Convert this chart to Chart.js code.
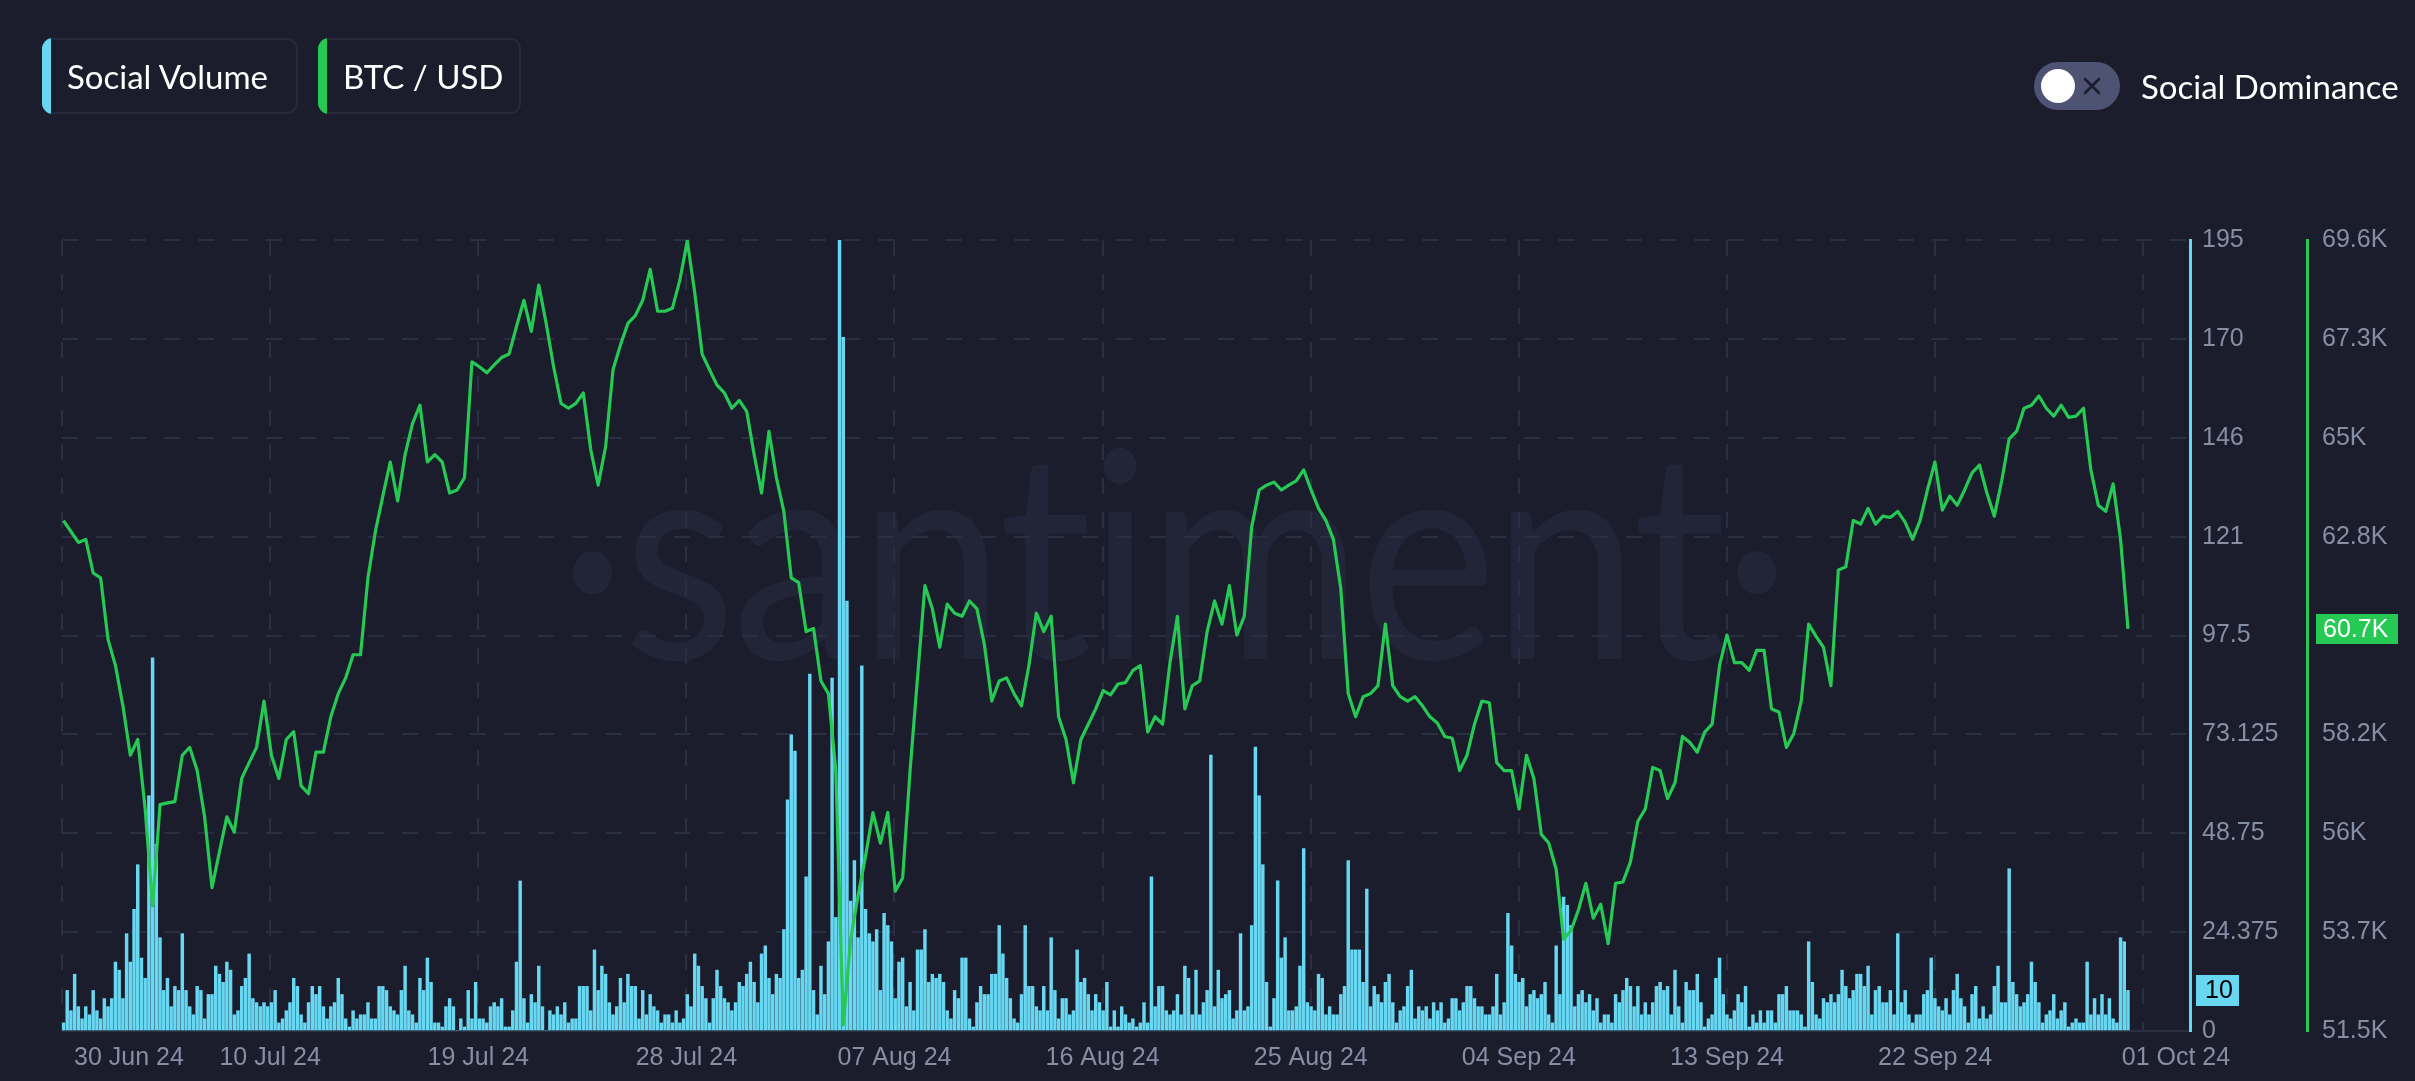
<!DOCTYPE html>
<html>
<head>
<meta charset="utf-8">
<script src="https://cdn.jsdelivr.net/npm/chart.js@4.4.1/dist/chart.umd.min.js"></script>
<style>
  html, body { margin:0; padding:0; }
  body { width:2415px; height:1081px; overflow:hidden; position:relative; background:#1b1d2c; font-family:Lato, "Open Sans", sans-serif; }
  #wm { position:absolute; left:0; width:2346px; top:402px; text-align:center; font:290px/1 Lato, sans-serif; color:#222538;
        letter-spacing:-4px; white-space:nowrap; transform:scaleX(0.9); transform-origin:1173px 0; }
  canvas { position:absolute; left:0; top:0; }
  .lg { position:absolute; top:38px; height:76px; box-sizing:border-box; border-radius:11px; overflow:hidden;
        box-shadow: inset 0 0 0 2px #262a3c; color:#fff; font-size:33px; line-height:76px; padding-left:25px; white-space:nowrap; }
  .lg i { position:absolute; left:0; top:0; bottom:0; width:9px; }
  #toggle { position:absolute; left:2034px; top:62px; width:86px; height:48px; border-radius:24px; background:#4f5373; }
  #toggle .knob { position:absolute; left:7px; top:7px; width:34px; height:34px; border-radius:50%; background:#fff; }
  #toggle svg { position:absolute; left:49px; top:15px; }
  #dom { position:absolute; left:2141px; top:62px; line-height:48px; font-size:33px; color:#fff; white-space:nowrap; }
</style>
</head>
<body>
<div id="wm">·santiment·</div>
<canvas id="chart" width="2415" height="1081"></canvas>
<div class="lg" style="left:42px;width:256px"><i style="background:#68d7f1"></i>Social Volume</div>
<div class="lg" style="left:318px;width:203px"><i style="background:#26c953"></i>BTC / USD</div>
<div id="toggle"><span class="knob"></span>
  <svg width="18" height="18" viewBox="0 0 18 18"><path d="M2 2L16 16M16 2L2 16" stroke="#1b1d2c" stroke-width="2.6" stroke-linecap="round"/></svg>
</div>
<div id="dom">Social Dominance</div>
<script>
// social volume, one bar every 4 hours from 30 Jun 24
const socialVolume = [
  2,10,5,14,6,3,6,4,10,5,3,8,6,8,17,15,8,24,17,30,41,18,13,58,92,46,23,10,13,6,11,10,24,10,6,4,11,10,3,9,
  9,16,14,12,17,15,4,5,11,13,19,8,7,6,7,6,7,10,2,3,5,7,13,11,4,2,7,11,9,11,6,3,6,7,13,9,3,1,5,3,
  4,4,7,3,3,11,11,10,6,5,4,10,16,
  5,4,2,13,10,18,12,2,2,1,6,8,6,0,3,1,10,3,12,3,3,2,6,7,6,8,1,1,5,17,37,8,2,9,7,16,6,0,5,4,
  6,4,7,2,3,3,11,11,11,5,20,10,16,14,7,4,6,13,7,14,11,11,3,10,4,9,6,5,2,4,4,2,5,2,3,9,6,19,16,11,
  8,2,8,15,11,8,7,5,7,12,11,14,17,
  12,7,19,21,13,9,14,13,25,57,73,69,13,15,38,88,10,4,16,9,22,87,28,195,171,106,32,42,23,90,
  30,24,22,25,10,29,26,22,8,17,18,6,12,5,20,20,25,12,14,13,14,12,5,3,10,8,18,18,3,1,
  7,11,9,9,14,14,26,19,13,8,3,2,9,26,11,11,6,5,11,5,23,10,3,8,8,4,5,20,12,13,9,5,9,
  7,5,12,1,5,1,6,4,2,3,1,2,7,2,38,6,11,11,5,4,5,9,4,16,13,4,15,4,7,10,68,6,15,8,9,10,3,5,24,5,
  6,26,70,58,41,12,1,8,37,18,23,5,5,6,16,45,7,6,5,14,13,4,6,4,4,9,11,42,20,20,20,12,35,6,11,9,7,12,14,7,
  2,5,6,11,15,3,6,5,6,3,7,5,
  7,2,3,8,8,5,7,11,11,8,6,6,4,4,6,14,4,7,29,21,14,12,13,6,9,10,8,9,12,4,2,21,9,33,31,26,6,9,10,7,
  9,5,8,2,4,4,2,9,7,10,13,11,6,11,4,7,4,7,11,12,10,11,4,15,6,2,12,10,10,14,7,1,3,4,13,18,9,4,3,5,
  9,7,11,1,4,2,5,2,5,5,2,9,9,
  11,5,5,5,4,1,22,12,4,3,8,7,9,7,9,15,11,8,10,14,14,11,16,4,10,11,7,7,10,4,24,7,10,4,2,4,4,9,10,18,
  8,6,5,8,4,10,14,8,6,2,9,11,3,6,3,4,11,16,7,7,40,12,9,6,7,9,17,12,7,2,4,5,9,3,5,7,1,2,3,2,
  2,17,4,8,4,9,4,8,3,2,23,22,10
];

// BTC / USD, one reading every 8 hours
const btcPrice = [
  63180,62930,62680,62750,61980,61870,60460,59860,58940,57810,
  58170,56580,54360,56680,56720,56750,57810,57990,57460,56400,
  54780,55600,56400,56050,57280,57640,57990,59050,57810,57280,
  58170,58350,57110,56930,57880,57880,58690,59220,59580,60110,
  60110,61870,62930,63740,64520,63630,64690,65400,65820,64520,
  64690,64520,63810,63880,64160,66810,66700,66560,66740,66910,
  66990,67620,68220,67510,68570,67690,66700,65860,65750,65860,
  66100,64800,63990,64870,66630,67200,67690,67870,68220,68930,
  67970,67970,68040,68680,69580,68400,66990,66630,66280,66100,
  65750,65930,65680,64690,63810,65220,64160,63390,61870,61760,
  60640,60710,59510,59220,57460,51640,53600,54600,55500,56500,
  55800,56500,54700,55000,57460,59580,61690,61160,60280,61270,
  61060,60990,61340,61160,60350,59050,59510,59580,59220,58940,
  59860,61060,60640,60990,58690,58170,57180,58170,58520,58870,
  59290,59190,59440,59470,59750,59860,58340,58690,58520,59930,
  60990,58870,59400,59510,60640,61340,60810,61690,60560,60990,
  63030,63880,63990,64060,63880,63990,64090,64340,63880,63460,
  63180,62750,61620,59220,58690,59150,59220,59400,60810,59400,
  59150,59050,59150,58940,58690,58550,58240,58200,57460,57810,
  58520,59050,59010,57640,57460,57460,56580,57810,57280,56000,
  55800,55200,53600,53800,54270,54880,54080,54400,53500,54880,
  54910,55370,56300,56580,57530,57460,56820,57180,58240,58100,
  57880,58340,58520,59860,60560,59930,59930,59750,60210,60210,
  58870,58800,57990,58310,59050,60810,60530,60280,59400,62050,
  62120,63180,63100,63460,63100,63280,63250,63390,63140,62750,
  63180,63880,64520,63420,63740,63530,63880,64270,64450,63810,
  63280,64090,65050,65220,65750,65820,66030,65750,65570,65820,
  65540,65570,65750,64340,63530,63390,64020,62750,60700
];

const xTickLabels = ['30 Jun 24','10 Jul 24','19 Jul 24','28 Jul 24','07 Aug 24','16 Aug 24',
                     '25 Aug 24','04 Sep 24','13 Sep 24','22 Sep 24','01 Oct 24'];

const BAR_STEP_H = 4, BTC_STEP_H = 8;
const VOL_MIN = 0, VOL_MAX = 195;
const BTC_MIN = 51500, BTC_MAX = 69600;

// x axis in hours from the first bar; grid every 224.2 h, first/last labels pulled inside
const X_MIN = -1.6, X_MAX = 2290.8, GRID_STEP = 224.2;
const FIRST_LABEL_AT = 70.6, LAST_LABEL_AT = 2275.7;

const GRID = '#2a2e41', TICK = '#868ea4', CYAN = '#68d7f1', GREEN = '#26c953';
const tickFont = { family: '"Liberation Sans", Arial, sans-serif', size: 25 };

function fmtVol(v){ return v >= 100 ? String(Math.floor(v)) : String(+v.toFixed(3)); }
function fmtBtc(v){ const k = Math.floor(Math.round(v) / 100) / 10; return k + 'K'; }

function xTicks(){
  const last = xTickLabels.length - 1;
  const t = [{ value: X_MIN, grid: true, text: '' }, { value: FIRST_LABEL_AT, grid: false, text: xTickLabels[0] }];
  for (let j = 1; j < last; j++) t.push({ value: X_MIN + j * GRID_STEP, grid: true, text: xTickLabels[j] });
  t.push({ value: X_MIN + last * GRID_STEP, grid: true, text: '' });
  t.push({ value: LAST_LABEL_AT, grid: false, text: xTickLabels[last] });
  return t;
}

// keep the y label overflow from pushing the plot area
function noOverflow(width){
  return s => { s.width = width; s.paddingTop = 0; s.paddingBottom = 0; };
}

function badge(ctx, x, y, text, bg, fg, w, h, pad){
  ctx.save();
  ctx.fillStyle = bg;
  ctx.fillRect(x, Math.round(y - h / 2), w, h);
  ctx.fillStyle = fg;
  ctx.font = '25px "Liberation Sans", Arial, sans-serif';
  ctx.textBaseline = 'middle';
  ctx.textAlign = 'left';
  ctx.fillText(text, x + pad, y + 1);
  ctx.restore();
}

const lastBadges = {
  id: 'lastBadges',
  afterDraw(chart){
    const { ctx, scales } = chart;
    const v = socialVolume[socialVolume.length - 1];
    const b = btcPrice[btcPrice.length - 1];
    badge(ctx, scales.yv.left + 6, scales.yv.getPixelForValue(v), String(v), CYAN, '#000', 43, 31, 9);
    badge(ctx, scales.yb.left + 9, scales.yb.getPixelForValue(b), (b / 1000).toFixed(1) + 'K', GREEN, '#fff', 82, 30, 7);
  }
};

new Chart(document.getElementById('chart'), {
  type: 'bar',
  data: {
    datasets: [
      {
        type: 'line', label: 'BTC / USD', order: 0,
        data: btcPrice.map((p, k) => ({ x: k * BTC_STEP_H, y: p })),
        xAxisID: 'x', yAxisID: 'yb',
        borderColor: GREEN, borderWidth: 3.2, pointRadius: 0, tension: 0,
        borderJoinStyle: 'round', fill: false
      },
      {
        type: 'bar', label: 'Social Volume', order: 1,
        data: socialVolume.map((v, i) => ({ x: i * BAR_STEP_H, y: v })),
        xAxisID: 'x', yAxisID: 'yv',
        backgroundColor: CYAN, borderWidth: 0, barThickness: 2.8
      }
    ]
  },
  options: {
    responsive: false, animation: false, events: [],
    devicePixelRatio: 1,
    layout: { padding: { left: 62, top: 240, right: 0, bottom: 8 } },
    plugins: { legend: { display: false }, tooltip: { enabled: false } },
    scales: {
      x: {
        type: 'linear', position: 'bottom', offset: false,
        min: X_MIN, max: X_MAX,
        grid: { color: c => (c.tick && c.tick.grid ? GRID : 'rgba(0,0,0,0)'), lineWidth: 2, drawTicks: false, offset: false },
        border: { display: true, color: GRID, width: 2, dash: [16, 18] },
        ticks: {
          color: TICK, font: tickFont, padding: 12, autoSkip: false, maxRotation: 0,
          callback: (v, i, ticks) => ticks[i].text
        },
        afterBuildTicks: s => { s.ticks = xTicks(); },
        afterFit: s => { s.height = 42; }
      },
      yv: {
        type: 'linear', position: 'right', weight: 0,
        min: VOL_MIN, max: VOL_MAX,
        grid: { color: GRID, lineWidth: 2, drawTicks: false },
        border: { display: true, color: CYAN, width: 3, dash: [16, 18] },
        ticks: { count: 9, color: TICK, font: tickFont, padding: 12, callback: v => fmtVol(v) },
        afterFit: noOverflow(117)
      },
      yb: {
        type: 'linear', position: 'right', weight: 1,
        min: BTC_MIN, max: BTC_MAX,
        grid: { display: false, drawTicks: false },
        border: { display: true, color: GREEN, width: 3 },
        ticks: { count: 9, color: TICK, font: tickFont, padding: 15, callback: v => fmtBtc(v) },
        afterFit: noOverflow(108)
      }
    }
  },
  plugins: [lastBadges]
});
</script>
</body>
</html>
